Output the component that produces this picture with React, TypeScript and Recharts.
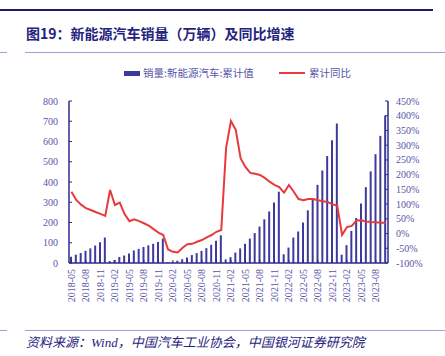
import { ComposedChart, Bar, Line, XAxis, YAxis } from "recharts";

// months shown on the category axis
const months = [
  "2018-05", "2018-06", "2018-07", "2018-08", "2018-09", "2018-10", "2018-11", "2018-12",
  "2019-01", "2019-02", "2019-03", "2019-04", "2019-05", "2019-06", "2019-07", "2019-08", "2019-09", "2019-10", "2019-11", "2019-12",
  "2020-01", "2020-02", "2020-03", "2020-04", "2020-05", "2020-06", "2020-07", "2020-08", "2020-09", "2020-10", "2020-11", "2020-12",
  "2021-01", "2021-02", "2021-03", "2021-04", "2021-05", "2021-06", "2021-07", "2021-08", "2021-09", "2021-10", "2021-11", "2021-12",
  "2022-01", "2022-02", "2022-03", "2022-04", "2022-05", "2022-06", "2022-07", "2022-08", "2022-09", "2022-10", "2022-11", "2022-12",
  "2023-01", "2023-02", "2023-03", "2023-04", "2023-05", "2023-06", "2023-07", "2023-08", "2023-09", "2023-10",
];

// 销量:新能源汽车:累计值 (万辆)
const salesCum = [
  31, 41.2, 49.6, 60.1, 72.1, 86.0, 102.9, 125.6,
  9.6, 15.0, 29.9, 36.8, 46.8, 61.7, 69.6, 79.3, 87.2, 94.7, 104.3, 120.6,
  4.4, 5.7, 11.4, 18.6, 26.8, 39.3, 48.6, 59.7, 73.2, 90.0, 110.0, 136.7,
  17.9, 28.9, 51.5, 72.1, 95.0, 120.6, 147.8, 179.9, 215.7, 254.2, 299.0, 352.1,
  43.1, 76.1, 125.7, 155.6, 200.3, 260.0, 319.4, 386.0, 456.7, 528.0, 606.7, 688.7,
  40.8, 88, 158.6, 222.2, 294.0, 374.7, 452.6, 537.4, 627.8, 728.0,
];

// 累计同比 (%)
const yoyCum = [
  142, 114, 98, 86, 80, 73, 67, 60,
  148, 97, 105, 66, 42, 48, 42, 35, 27, 15, 3, -5,
  -54, -62, -64, -48, -36, -35, -28, -22, -13, -5, 6, 12,
  290, 382, 352, 256, 226, 206, 203, 199, 189, 176, 165, 158,
  139, 165, 142, 117, 113, 117, 117, 113, 110, 107, 100, 94,
  -5, 22, 26, 44, 45, 41, 39, 38, 37, 37,
];

const leftTicks = [0, 100, 200, 300, 400, 500, 600, 700, 800];
const rightTicks = [-100, -50, 0, 50, 100, 150, 200, 250, 300, 350, 400, 450];

const chartData = months.map((m, i) => ({
  month: m,
  sales: salesCum[i],
  yoy: yoyCum[i],
}));

const NAVY = "#2d2b8c";
const BAR = "#3d3a9c";
const RED = "#e8393c";
const LABEL = "#5654a8";
const RULE = "#a39ed8";
const SERIF = '"Liberation Serif", "Times New Roman", "DejaVu Serif", serif';
const CJK = '"Noto Sans CJK SC", "Noto Sans", sans-serif';

const tickText = { fontFamily: SERIF, fontSize: 10, fill: LABEL };

const LeftTick = (props: any) => {
  const { x, y, payload } = props;
  return (
    <g>
      <line x1={x} y1={y} x2={x + 3} y2={y} stroke={NAVY} strokeWidth={1} />
      <text x={x - 11} y={y} dy={3.5} textAnchor="end" style={tickText}>
        {payload.value}
      </text>
    </g>
  );
};

const RightTick = (props: any) => {
  const { x, y, payload } = props;
  return (
    <g>
      <line x1={x} y1={y} x2={x - 3} y2={y} stroke={NAVY} strokeWidth={1} />
      <text x={x + 8} y={y} dy={3.5} textAnchor="start" style={tickText}>
        {`${payload.value}%`}
      </text>
    </g>
  );
};

const BottomTick = (props: any) => {
  const { x, y, payload } = props;
  return (
    <g>
      <line x1={x} y1={y} x2={x} y2={y - 3} stroke={NAVY} strokeWidth={1} />
      <text
        x={x}
        y={y + 6}
        dy={3.5}
        textAnchor="end"
        style={tickText}
        transform={`rotate(-90, ${x}, ${y + 6})`}
      >
        {payload.value}
      </text>
    </g>
  );
};

export default function App() {
  return (
    <div
      style={{
        position: "absolute",
        left: 0,
        top: 0,
        width: 445,
        height: 356,
        background: "#fff",
        overflow: "hidden",
      }}
    >
      {/* header rule */}
      <div style={{ position: "absolute", left: 0, top: 9, width: 433, height: 2, background: "#1c1a70" }} />

      <div
        style={{
          position: "absolute",
          left: 26,
          top: 23,
          fontFamily: CJK,
          fontWeight: 700,
          fontSize: 14,
          color: "#25237e",
          whiteSpace: "nowrap",
        }}
      >
        图19：新能源汽车销量（万辆）及同比增速
      </div>
      <div style={{ position: "absolute", left: 0, top: 52, width: 7, height: 1, background: RULE }} />
      <div style={{ position: "absolute", left: 25, top: 52, width: 420, height: 1, background: RULE }} />

      {/* legend */}
      <div style={{ position: "absolute", left: 124, top: 71, width: 16, height: 5, background: BAR }} />
      <div
        style={{
          position: "absolute",
          left: 143,
          top: 65,
          fontFamily: CJK,
          fontSize: 10.5,
          color: LABEL,
          whiteSpace: "nowrap",
        }}
      >
        销量:新能源汽车:累计值
      </div>
      <div style={{ position: "absolute", left: 279, top: 72, width: 26, height: 2, background: RED }} />
      <div
        style={{
          position: "absolute",
          left: 309,
          top: 65,
          fontFamily: CJK,
          fontSize: 10.5,
          color: LABEL,
          whiteSpace: "nowrap",
        }}
      >
        累计同比
      </div>

      <div style={{ position: "absolute", left: 0, top: 0 }}>
        <ComposedChart
          width={445}
          height={356}
          data={chartData}
          margin={{ top: 101, right: 7, bottom: 43, left: 29 }}
        >
          <XAxis
            dataKey="month"
            interval={2}
            height={50}
            tickSize={0}
            tickMargin={0}
            tickLine={false}
            tick={<BottomTick />}
            axisLine={{ stroke: NAVY, strokeWidth: 1.5 }}
          />
          <YAxis
            yAxisId="left"
            orientation="left"
            width={40}
            domain={[0, 800]}
            ticks={leftTicks}
            interval={0}
            tickSize={0}
            tickMargin={0}
            tickLine={false}
            tick={<LeftTick />}
            axisLine={{ stroke: NAVY, strokeWidth: 1.5 }}
          />
          <YAxis
            yAxisId="right"
            orientation="right"
            width={50}
            domain={[-100, 450]}
            ticks={rightTicks}
            interval={0}
            tickSize={0}
            tickMargin={0}
            tickLine={false}
            tick={<RightTick />}
            axisLine={{ stroke: NAVY, strokeWidth: 1.5 }}
          />
          <Bar yAxisId="left" dataKey="sales" fill={BAR} barSize={2} isAnimationActive={false} />
          <Line
            yAxisId="right"
            dataKey="yoy"
            type="linear"
            stroke={RED}
            strokeWidth={2}
            dot={false}
            activeDot={false}
            isAnimationActive={false}
          />
        </ComposedChart>
      </div>

      <div style={{ position: "absolute", left: 0, top: 330, width: 7, height: 1, background: RULE }} />
      <div style={{ position: "absolute", left: 25, top: 330, width: 420, height: 1, background: RULE }} />
      <div
        style={{
          position: "absolute",
          left: 26,
          top: 332,
          fontFamily: '"Liberation Serif", "Noto Sans CJK SC", serif',
          fontStyle: "italic",
          fontSize: 13,
          color: "#25237e",
          whiteSpace: "nowrap",
        }}
      >
        资料来源：Wind，中国汽车工业协会，中国银河证券研究院
      </div>
    </div>
  );
}
